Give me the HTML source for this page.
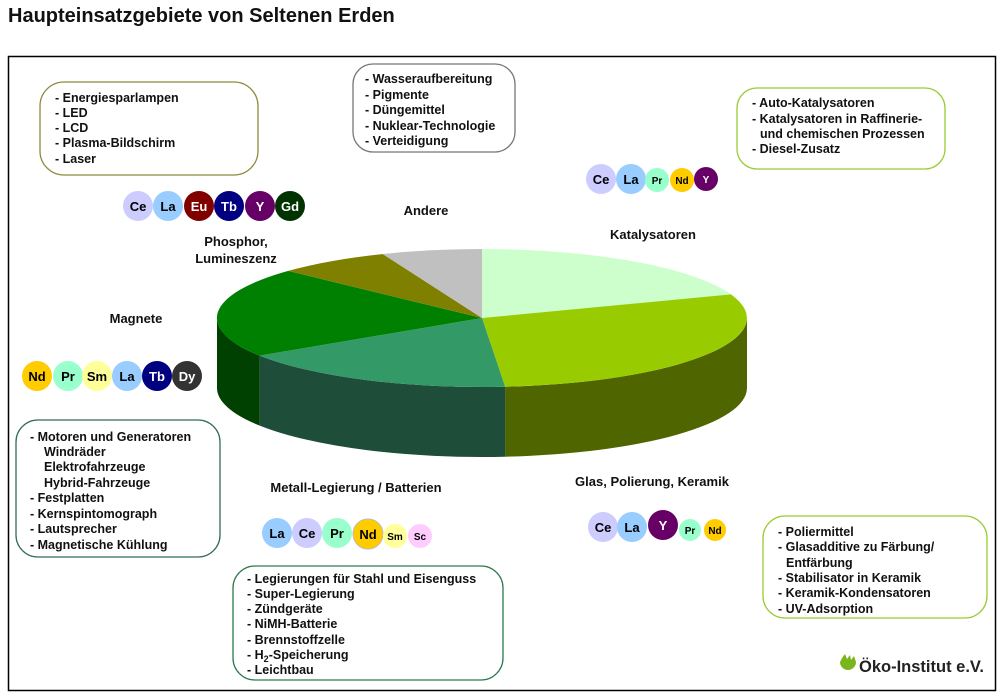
<!DOCTYPE html>
<html><head><meta charset="utf-8"><style>
html,body{margin:0;padding:0;background:#fff;width:1002px;height:694px;overflow:hidden}
svg text{font-family:"Liberation Sans",sans-serif;font-weight:bold}
</style></head><body>
<svg width="1002" height="694" viewBox="0 0 1002 694" xmlns="http://www.w3.org/2000/svg">
<text x="8" y="22" font-size="20" fill="#111">Haupteinsatzgebiete von Seltenen Erden</text>
<rect x="8.5" y="56.5" width="987" height="634" fill="none" stroke="#000" stroke-width="1.5"/>

<path d="M747,318 A265,69 0 0 1 505.1,386.7 L505.1,456.7 A265,69 0 0 0 747,388 Z" fill="#4f6600"/>
<path d="M505.1,386.7 A265,69 0 0 1 259.7,355.6 L259.7,425.6 A265,69 0 0 0 505.1,456.7 Z" fill="#1e4d3a"/>
<path d="M259.7,355.6 A265,69 0 0 1 217,318 L217,388 A265,69 0 0 0 259.7,425.6 Z" fill="#004000"/>
<path d="M482,318 L482,249 A265,69 0 0 1 731,294.4 Z" fill="#ccffcc"/>
<path d="M482,318 L731,294.4 A265,69 0 0 1 505.1,386.7 Z" fill="#99cc00"/>
<path d="M482,318 L505.1,386.7 A265,69 0 0 1 259.7,355.6 Z" fill="#339966"/>
<path d="M482,318 L259.7,355.6 A265,69 0 0 1 288.2,270.9 Z" fill="#008000"/>
<path d="M482,318 L288.2,270.9 A265,69 0 0 1 382.7,254 Z" fill="#808000"/>
<path d="M482,318 L382.7,254 A265,69 0 0 1 482,249 Z" fill="#c0c0c0"/>

<g font-size="13" fill="#111" text-anchor="middle">
<text x="426" y="215">Andere</text>
<text x="653" y="239">Katalysatoren</text>
<text x="236" y="246">Phosphor,</text>
<text x="236" y="263">Lumineszenz</text>
<text x="136" y="323">Magnete</text>
<text x="356" y="492">Metall-Legierung / Batterien</text>
<text x="652" y="486">Glas, Polierung, Keramik</text>
</g>

<g fill="none" stroke-width="1.3">
<rect x="40" y="82" width="218" height="93" rx="24" stroke="#8b8b3a"/>
<rect x="353" y="64" width="162" height="88" rx="20" stroke="#777"/>
<rect x="737" y="88" width="208" height="81" rx="20" stroke="#99cc33"/>
<rect x="16" y="420" width="204" height="137" rx="22" stroke="#336b5a"/>
<rect x="233" y="566" width="270" height="114" rx="22" stroke="#2e7a50"/>
<rect x="763" y="516" width="224" height="102" rx="22" stroke="#99cc33"/>
</g>
<g font-size="12.5" fill="#111">
<text x="55" y="102">- Energiesparlampen</text>
<text x="55" y="117">- LED</text>
<text x="55" y="132">- LCD</text>
<text x="55" y="147">- Plasma-Bildschirm</text>
<text x="55" y="163">- Laser</text>

<text x="365" y="83">- Wasseraufbereitung</text>
<text x="365" y="99">- Pigmente</text>
<text x="365" y="114">- Düngemittel</text>
<text x="365" y="130">- Nuklear-Technologie</text>
<text x="365" y="145">- Verteidigung</text>

<text x="752" y="107">- Auto-Katalysatoren</text>
<text x="752" y="123">- Katalysatoren in Raffinerie-</text>
<text x="760" y="138">und chemischen Prozessen</text>
<text x="752" y="153">- Diesel-Zusatz</text>

<text x="30" y="441">- Motoren und Generatoren</text>
<text x="44" y="456">Windräder</text>
<text x="44" y="471">Elektrofahrzeuge</text>
<text x="44" y="487">Hybrid-Fahrzeuge</text>
<text x="30" y="502">- Festplatten</text>
<text x="30" y="518">- Kernspintomograph</text>
<text x="30" y="533">- Lautsprecher</text>
<text x="30" y="549">- Magnetische Kühlung</text>

<text x="247" y="583">- Legierungen für Stahl und Eisenguss</text>
<text x="247" y="598">- Super-Legierung</text>
<text x="247" y="613">- Zündgeräte</text>
<text x="247" y="628">- NiMH-Batterie</text>
<text x="247" y="644">- Brennstoffzelle</text>
<text x="247" y="659">- H<tspan font-size="9" dy="3">2</tspan><tspan dy="-3">-Speicherung</tspan></text>
<text x="247" y="674">- Leichtbau</text>

<text x="778" y="536">- Poliermittel</text>
<text x="778" y="551">- Glasadditive zu Färbung/</text>
<text x="786" y="567">Entfärbung</text>
<text x="778" y="582">- Stabilisator in Keramik</text>
<text x="778" y="597">- Keramik-Kondensatoren</text>
<text x="778" y="613">- UV-Adsorption</text>
</g>

<g text-anchor="middle" font-size="13">
<circle cx="138" cy="206" r="15" fill="#ccccff"/><text x="138" y="211">Ce</text>
<circle cx="168" cy="206" r="15" fill="#99ccff"/><text x="168" y="211">La</text>
<circle cx="199" cy="206" r="15" fill="#800000"/><text x="199" y="211" fill="#fff">Eu</text>
<circle cx="229" cy="206" r="15" fill="#000080"/><text x="229" y="211" fill="#fff">Tb</text>
<circle cx="260" cy="206" r="15" fill="#660066"/><text x="260" y="211" fill="#fff">Y</text>
<circle cx="290" cy="206" r="15" fill="#003300"/><text x="290" y="211" fill="#fff">Gd</text>

<circle cx="601" cy="179" r="15" fill="#ccccff"/><text x="601" y="184">Ce</text>
<circle cx="631" cy="179" r="15" fill="#99ccff"/><text x="631" y="184">La</text>
<circle cx="657" cy="180" r="12" fill="#99ffcc"/><text x="657" y="184" font-size="10">Pr</text>
<circle cx="682" cy="180" r="12" fill="#ffcc00"/><text x="682" y="184" font-size="10">Nd</text>
<circle cx="706" cy="179" r="12" fill="#660066"/><text x="706" y="183" font-size="10" fill="#fff">Y</text>

<circle cx="37" cy="376" r="15" fill="#ffcc00"/><text x="37" y="381">Nd</text>
<circle cx="68" cy="376" r="15" fill="#99ffcc"/><text x="68" y="381">Pr</text>
<circle cx="97" cy="376" r="15" fill="#ffff99"/><text x="97" y="381">Sm</text>
<circle cx="127" cy="376" r="15" fill="#99ccff"/><text x="127" y="381">La</text>
<circle cx="157" cy="376" r="15" fill="#000080"/><text x="157" y="381" fill="#fff">Tb</text>
<circle cx="187" cy="376" r="15" fill="#333"/><text x="187" y="381" fill="#fff">Dy</text>

<circle cx="277" cy="533" r="15" fill="#99ccff"/><text x="277" y="538">La</text>
<circle cx="307" cy="533" r="15" fill="#ccccff"/><text x="307" y="538">Ce</text>
<circle cx="337" cy="533" r="15" fill="#99ffcc"/><text x="337" y="538">Pr</text>
<circle cx="368" cy="534" r="15" fill="#ffcc00" stroke="#bbb"/><text x="368" y="539">Nd</text>
<circle cx="395" cy="536" r="12" fill="#ffff99"/><text x="395" y="540" font-size="10">Sm</text>
<circle cx="420" cy="536" r="12" fill="#ffccff"/><text x="420" y="540" font-size="10">Sc</text>

<circle cx="603" cy="527" r="15" fill="#ccccff"/><text x="603" y="532">Ce</text>
<circle cx="632" cy="527" r="15" fill="#99ccff"/><text x="632" y="532">La</text>
<circle cx="663" cy="525" r="15" fill="#660066"/><text x="663" y="530" fill="#fff">Y</text>
<circle cx="690" cy="530" r="11" fill="#99ffcc"/><text x="690" y="534" font-size="10">Pr</text>
<circle cx="715" cy="530" r="11" fill="#ffcc00"/><text x="715" y="534" font-size="10">Nd</text>
</g>

<path d="M840,662 a8,8 0 0 0 16,0 l-2,-6 l-3,4 l-1,-5 l-3,4 l-2,-5 l-3,4 z" fill="#7ab51d"/>
<text x="859" y="672" font-size="16.5" fill="#222" textLength="125">Öko-Institut e.V.</text>
</svg>
</body></html>
